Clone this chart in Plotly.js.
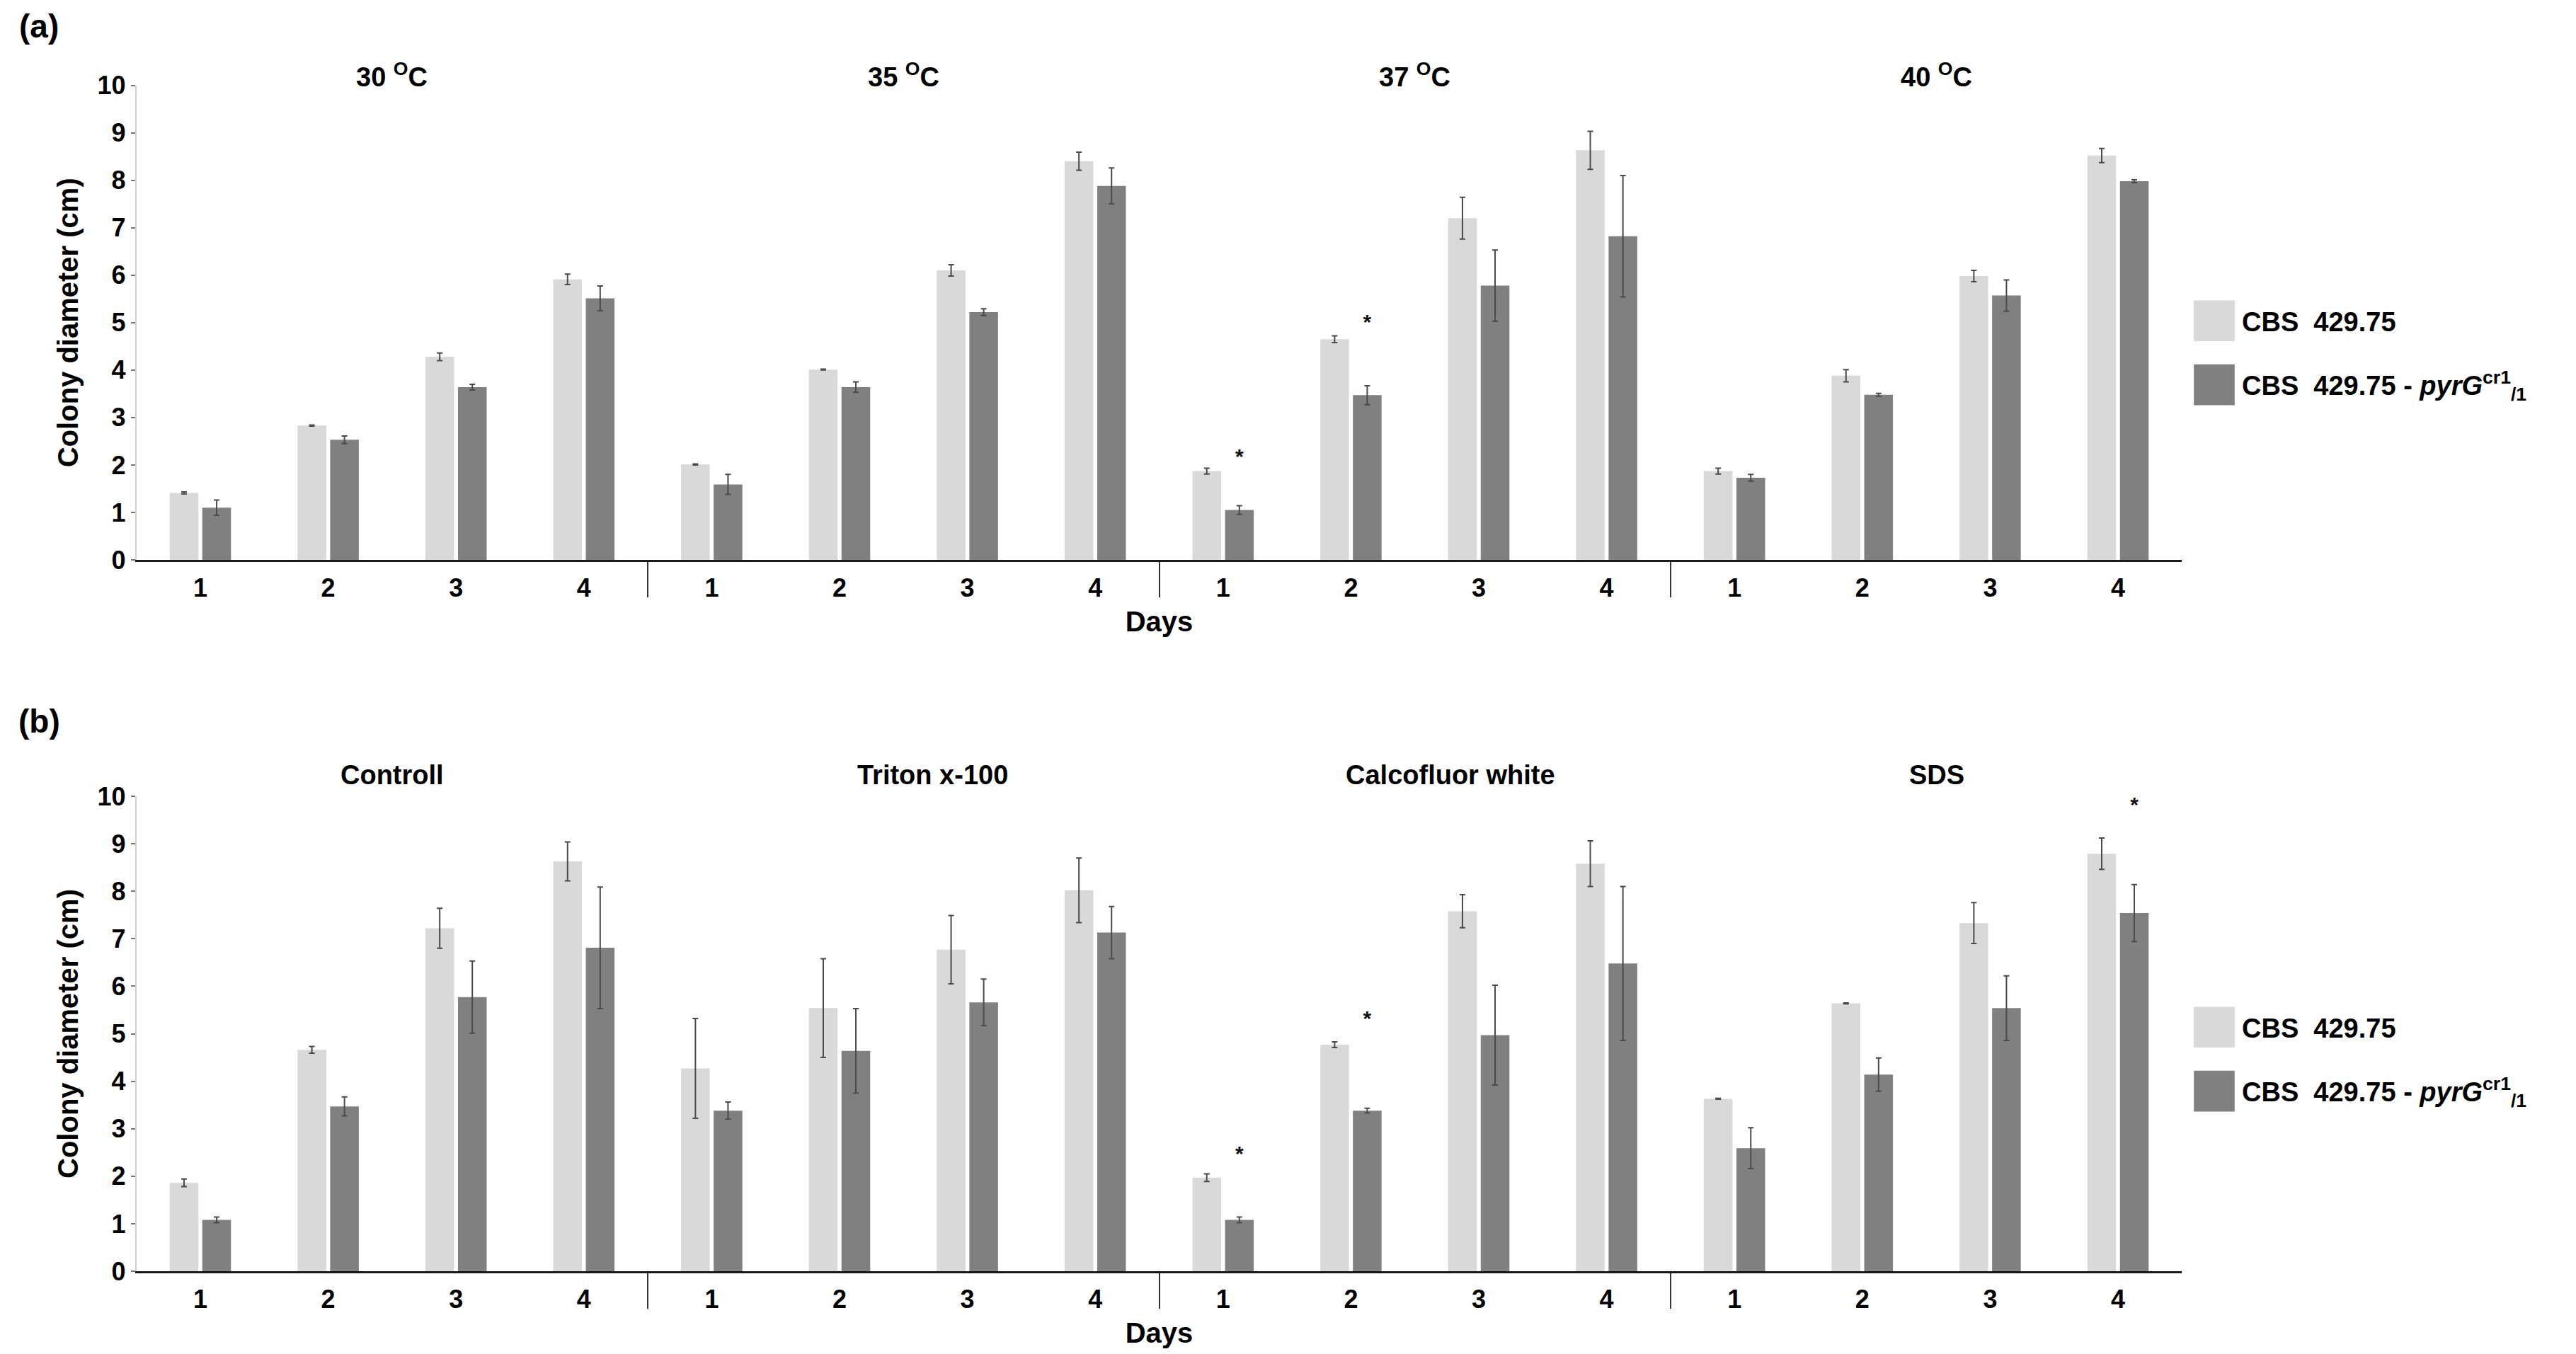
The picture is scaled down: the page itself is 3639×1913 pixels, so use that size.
<!DOCTYPE html>
<html>
<head>
<meta charset="utf-8">
<script src="https://cdn.plot.ly/plotly-3.0.1.min.js"></script>
<style>html,body{margin:0;padding:0;background:#fff;}</style>
</head>
<body>
<div id="chart" style="width:3639px;height:1913px;"></div>
<script>
// ---------------- DATA ----------------
const days = ['1', '2', '3', '4'];
const groupsA = ['30 <sup>O</sup>C', '35 <sup>O</sup>C', '37 <sup>O</sup>C', '40 <sup>O</sup>C'];
const groupsB = ['Controll', 'Triton x-100', 'Calcofluor white', 'SDS'];
const seriesNames = ['CBS\u00a0\u00a0429.75', 'CBS\u00a0\u00a0429.75 - <i>pyrG</i><sup>cr1</sup><sub>/1</sub>'];
const xTitle = 'Days';
const yTitle = 'Colony diameter (cm)';

// panel (a): temperature, 4 days per group
const wtA      = [1.41, 2.83, 4.28, 5.91,  2.01, 4.01, 6.10, 8.40,  1.87, 4.65, 7.20, 8.63,  1.87, 3.88, 5.98, 8.52];
const wtA_err  = [0.02, 0.01, 0.08, 0.11,  0.01, 0.01, 0.12, 0.19,  0.06, 0.07, 0.44, 0.40,  0.06, 0.13, 0.12, 0.15];
const mutA     = [1.10, 2.53, 3.64, 5.51,  1.59, 3.64, 5.22, 7.88,  1.05, 3.47, 5.78, 6.82,  1.73, 3.48, 5.57, 7.98];
const mutA_err = [0.16, 0.08, 0.06, 0.26,  0.21, 0.11, 0.07, 0.38,  0.09, 0.20, 0.75, 1.28,  0.07, 0.03, 0.33, 0.03];
const starsA_idx = [8, 9];
const starsA_y   = [2.14, 4.97];

// panel (b): stress agents, 4 days per group
const wtB      = [1.86, 4.66, 7.22, 8.63,  4.27, 5.54, 6.77, 8.02,  1.97, 4.77, 7.58, 8.58,  3.63, 5.64, 7.33, 8.79];
const wtB_err  = [0.08, 0.07, 0.42, 0.41,  1.05, 1.04, 0.72, 0.68,  0.08, 0.06, 0.35, 0.48,  0.01, 0.01, 0.43, 0.33];
const mutB     = [1.08, 3.47, 5.77, 6.81,  3.38, 4.64, 5.66, 7.13,  1.08, 3.38, 4.97, 6.48,  2.59, 4.14, 5.54, 7.54];
const mutB_err = [0.06, 0.20, 0.76, 1.28,  0.18, 0.89, 0.49, 0.55,  0.06, 0.05, 1.05, 1.62,  0.43, 0.35, 0.68, 0.60];
const starsB_idx = [8, 9, 15];
const starsB_y   = [2.43, 5.29, 9.79];

// ---------------- STYLE / LAYOUT ----------------
const FONT = 'Liberation Sans, Arial, Helvetica, sans-serif';
const LIGHT = '#d9d9d9', DARK = '#808080';
const BARGAP = 0.49, GROUPGAP = 0.12;
const darkOffset = (1 - BARGAP) / 4;
const titleShiftA = [0, 0, 0, 0.08];
const titleShiftB = [0, 0.23, 0.28, 0.08];

const nCat = groupsA.length * days.length;
const idx = Array.from({length: nCat}, (_, i) => i);
const tickText = idx.map(i => days[i % days.length]);
const sepVals = groupsA.slice(1).map((_, k) => (k + 1) * days.length - 0.5);

function errCfg(arr) {
  return {type: 'data', array: arr, visible: true, color: '#4a4a4a', thickness: 2, width: 4};
}

function panelTraces(xa, ya, leg, wt, wtErr, mut, mutErr, sIdx, sY) {
  return [
    {type: 'bar', x: idx, y: wt, name: seriesNames[0], xaxis: xa, yaxis: ya, legend: leg,
     legendgroup: leg + 'w', marker: {color: LIGHT, line: {width: 0}}, error_y: errCfg(wtErr)},
    {type: 'bar', x: idx, y: mut, name: seriesNames[1], xaxis: xa, yaxis: ya, legend: leg,
     legendgroup: leg + 'm', marker: {color: DARK, line: {width: 0}}, error_y: errCfg(mutErr)},
    {type: 'scatter', mode: 'text', x: sIdx.map(i => i + darkOffset), y: sY, text: sY.map(() => '*'),
     xaxis: xa, yaxis: ya, showlegend: false, cliponaxis: false,
     textfont: {family: FONT, size: 30, color: '#111', weight: 'bold'}}
  ];
}

const data = [].concat(
  panelTraces('x', 'y', 'legend', wtA, wtA_err, mutA, mutA_err, starsA_idx, starsA_y),
  panelTraces('x2', 'y2', 'legend2', wtB, wtB_err, mutB, mutB_err, starsB_idx, starsB_y)
);

const W = 3639, H = 1913;
const xDomain = [192.7 / W, 3082.3 / W];

function xAxis(anchor) {
  return {
    anchor: anchor, domain: xDomain, range: [-0.5, nCat - 0.5],
    tickmode: 'array', tickvals: idx, ticktext: tickText,
    ticks: 'outside', ticklen: 6, tickcolor: 'rgba(0,0,0,0)',
    tickfont: {family: FONT, size: 36, color: '#000', weight: 'bold'},
    showline: true, linecolor: '#1a1a1a', linewidth: 3,
    showgrid: false, zeroline: false, fixedrange: true,
    minor: {tickmode: 'array', tickvals: sepVals, ticks: 'outside', ticklen: 50, tickwidth: 2, tickcolor: '#333'},
    title: {text: xTitle, font: {family: FONT, size: 40, color: '#000', weight: 'bold'}, standoff: 14}
  };
}
function yAxis(anchor, domain) {
  return {
    anchor: anchor, domain: domain, range: [0, 10], tickmode: 'linear', tick0: 0, dtick: 1,
    ticks: 'outside', ticklen: 6, tickwidth: 2, tickcolor: '#777',
    tickfont: {family: FONT, size: 36, color: '#000', weight: 'bold'},
    showline: true, linecolor: '#cfcfcf', linewidth: 2,
    showgrid: false, zeroline: false, fixedrange: true,
    title: {text: yTitle, font: {family: FONT, size: 40, color: '#000', weight: 'bold'}, standoff: 14}
  };
}

const annotations = [];
groupsA.forEach((g, k) => annotations.push({
  text: g, xref: 'x', yref: 'paper', x: k * days.length + 1.5 + titleShiftA[k], y: 1 - 106 / H,
  yanchor: 'middle', showarrow: false, font: {family: FONT, size: 38, color: '#000', weight: 'bold'}
}));
groupsB.forEach((g, k) => annotations.push({
  text: g, xref: 'x2', yref: 'paper', x: k * days.length + 1.5 + titleShiftB[k], y: 1 - 1095 / H,
  yanchor: 'middle', showarrow: false, font: {family: FONT, size: 38, color: '#000', weight: 'bold'}
}));
annotations.push({text: '(a)', xref: 'paper', yref: 'paper', x: 55 / W, y: 1 - 37 / H, xanchor: 'center', yanchor: 'middle',
  showarrow: false, font: {family: FONT, size: 46, color: '#000', weight: 'bold'}});
annotations.push({text: '(b)', xref: 'paper', yref: 'paper', x: 55 / W, y: 1 - 1019 / H, xanchor: 'center', yanchor: 'middle',
  showarrow: false, font: {family: FONT, size: 46, color: '#000', weight: 'bold'}});

function legendCfg(yTop) {
  return {x: 3089 / W, xanchor: 'left', y: yTop, yanchor: 'top', itemwidth: 68, tracegroupgap: 38,
    traceorder: 'grouped', bgcolor: 'rgba(0,0,0,0)', borderwidth: 0,
    font: {family: FONT, size: 38, color: '#000', weight: 'bold'}};
}

const layout = {
  width: W, height: H, margin: {l: 0, r: 0, t: 0, b: 0},
  paper_bgcolor: '#fff', plot_bgcolor: '#fff',
  font: {family: FONT, color: '#000', weight: 'bold'},
  barmode: 'group', bargap: BARGAP, bargroupgap: GROUPGAP,
  showlegend: true, hovermode: false,
  xaxis: xAxis('y'), yaxis: yAxis('x', [1 - 791 / H, 1 - 120.5 / H]),
  xaxis2: xAxis('y2'), yaxis2: yAxis('x2', [1 - 1796 / H, 1 - 1125 / H]),
  legend: legendCfg(1 - 422 / H),
  legend2: legendCfg(1 - 1420 / H),
  annotations: annotations
};

Plotly.newPlot('chart', data, layout, {displayModeBar: false, staticPlot: true}).then(() => {
  // enlarge legend colour swatches (keep Plotly's own centring translate)
  document.querySelectorAll('.legendpoints path').forEach(p => {
    const t = p.getAttribute('transform') || '';
    p.setAttribute('transform', t + ' scale(4.8)');
  });
});
</script>
</body>
</html>
